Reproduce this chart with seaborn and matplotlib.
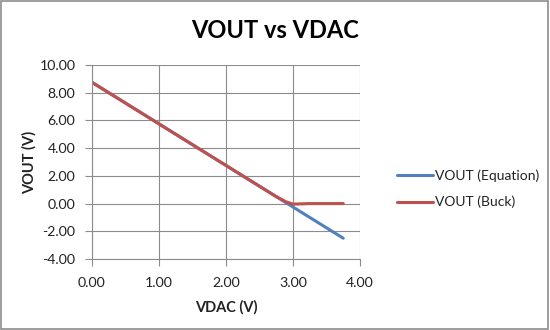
import matplotlib
matplotlib.use("Agg")
import matplotlib.pyplot as plt
import seaborn as sns
import pandas as pd
from matplotlib.patches import Rectangle

sns.set_theme(style="white")
plt.rcParams['font.family'] = ['Lato', 'DejaVu Sans']

vdac_eq = [0.0, 0.25, 0.5, 0.75, 1.0, 1.25, 1.5, 1.75, 2.0, 2.25, 2.5, 2.75, 3.0, 3.25, 3.5, 3.75]
vout_eq = [8.75, 8.0, 7.25, 6.5, 5.75, 5.0, 4.25, 3.5, 2.75, 2.0, 1.25, 0.5, -0.25, -1.0, -1.75, -2.5]
vdac_buck = [0.0, 0.25, 0.5, 0.75, 1.0, 1.25, 1.5, 1.75, 2.0, 2.25, 2.5, 2.75, 2.9, 3.0, 3.25, 3.5, 3.75]
vout_buck = [8.75, 8.0, 7.25, 6.5, 5.75, 5.0, 4.25, 3.5, 2.75, 2.0, 1.25, 0.5, 0.12, -0.04, 0.0, 0.0, 0.0]

df = pd.concat([
    pd.DataFrame({"VDAC": vdac_eq, "VOUT": vout_eq, "Series": "VOUT (Equation)"}),
    pd.DataFrame({"VDAC": vdac_buck, "VOUT": vout_buck, "Series": "VOUT (Buck)"}),
])

fig = plt.figure(figsize=(5.5, 3.3), dpi=100)
ax = fig.add_axes([92/550, 1-259/330, (360-92)/550, (259-65)/330])

sns.lineplot(data=df, x="VDAC", y="VOUT", hue="Series", sort=False,
             palette={"VOUT (Equation)": "#4F81BD", "VOUT (Buck)": "#C0504D"},
             linewidth=2.2, ax=ax, legend=True)

ax.set_xlim(0, 4)
ax.set_ylim(-4, 10)
ax.set_xticks([0, 1, 2, 3, 4])
ax.set_yticks([-4, -2, 0, 2, 4, 6, 8, 10])
ax.set_xticklabels([f"{v:.2f}" for v in [0, 1, 2, 3, 4]])
ax.set_yticklabels([f"{v:.2f}" for v in [-4, -2, 0, 2, 4, 6, 8, 10]])
ax.grid(True, color="#8c8c8c", linewidth=0.8)
ax.set_axisbelow(True)
for s in ["top", "right"]:
    ax.spines[s].set_visible(False)
for s in ["left", "bottom"]:
    ax.spines[s].set_color("#8c8c8c")
    ax.spines[s].set_linewidth(0.8)
ax.tick_params(axis="both", which="both", direction="out", length=5, width=0.8,
               color="#8c8c8c", labelsize=10.2, labelcolor="#222222",
               bottom=True, left=True)
ax.tick_params(axis="y", pad=7)
ax.tick_params(axis="x", pad=8)
ax.set_xlabel("VDAC (V)", fontsize=10.5, fontweight="bold", color="#222222", labelpad=8)
ax.set_ylabel("VOUT (V)", fontsize=10.5, fontweight="bold", color="#222222", labelpad=2)

leg = ax.legend(loc="center left", bbox_to_anchor=(384/550, 1-189/330),
                bbox_transform=fig.transFigure, frameon=False, fontsize=10,
                handlelength=2.6, handletextpad=0.15, labelspacing=1.0)
for t in leg.get_texts():
    t.set_color("#222222")

fig.text(0.5, 1-31/330, "VOUT vs VDAC", ha="center", va="center",
         fontsize=17, fontweight="bold", color="black")

fig.patches.append(Rectangle((0.002, 0.003), 0.995, 0.994, transform=fig.transFigure,
                             fill=False, edgecolor="#8c8c8c", linewidth=1.2))

fig.savefig("out.png", dpi=100, facecolor="white")
